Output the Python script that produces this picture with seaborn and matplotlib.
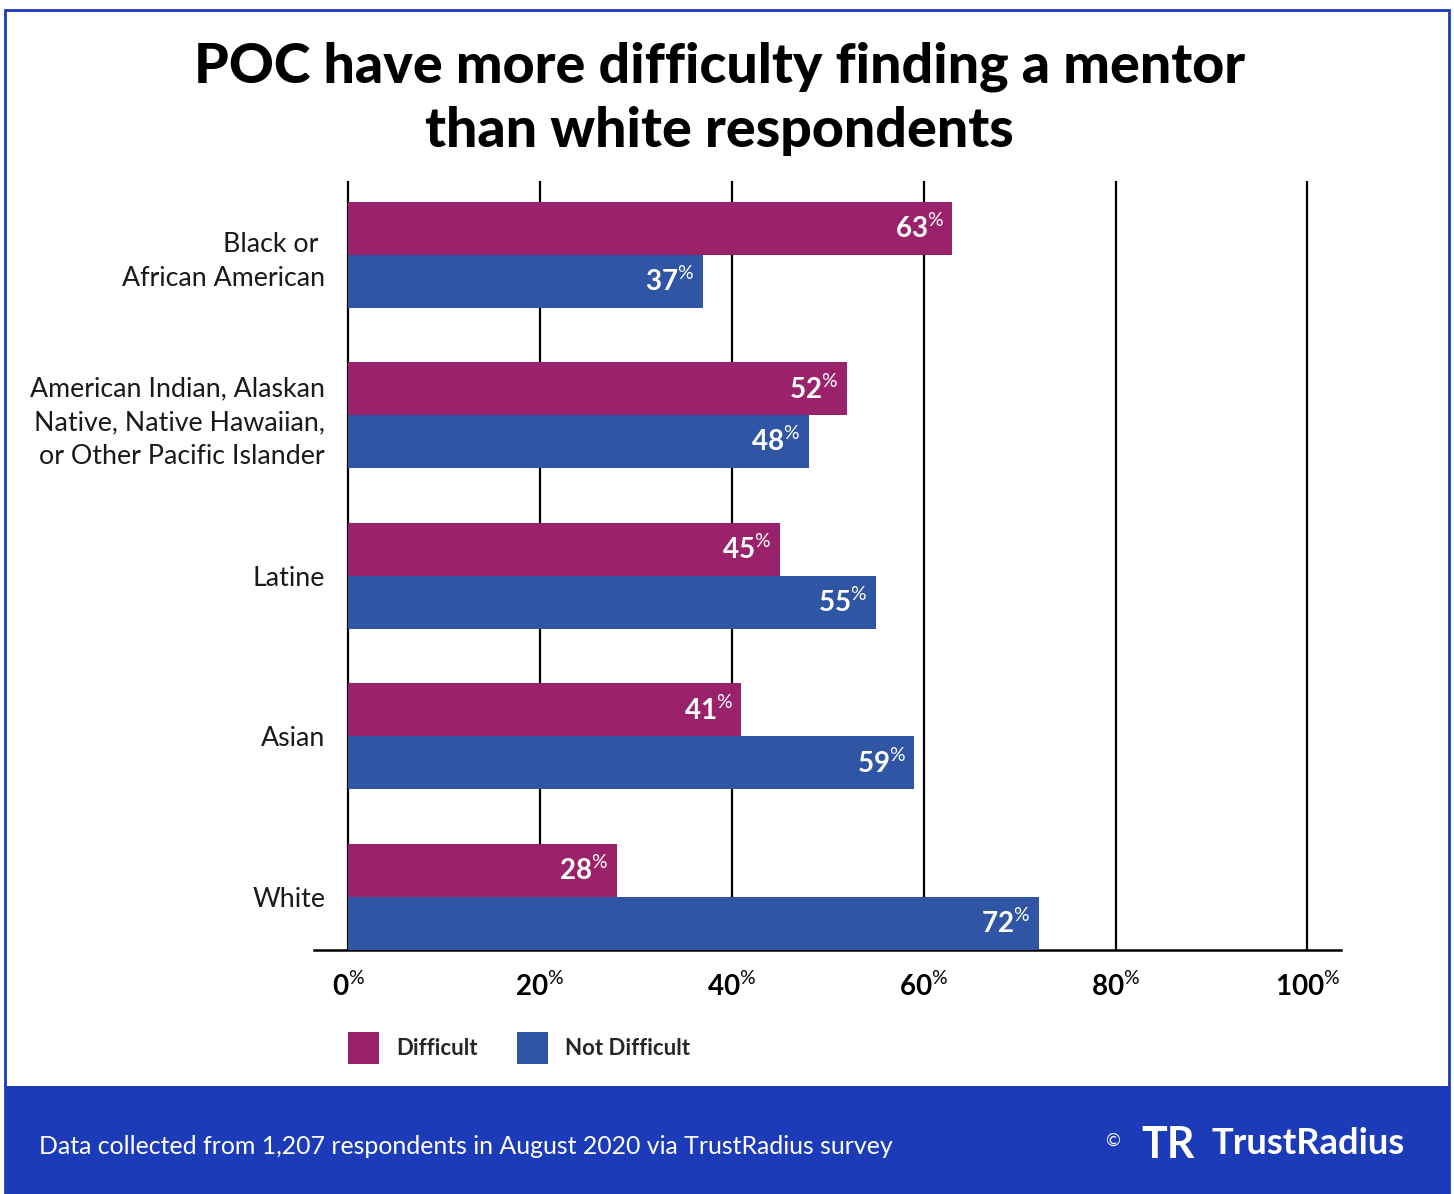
import pandas as pd
import matplotlib.pyplot as plt
import seaborn as sns
from matplotlib.patches import Patch, Rectangle

# chart data
groups = [
    "Black or \nAfrican American",
    "American Indian, Alaskan\nNative, Native Hawaiian,\nor Other Pacific Islander",
    "Latine",
    "Asian",
    "White",
]
difficult = [63, 52, 45, 41, 28]
not_difficult = [37, 48, 55, 59, 72]
series = ["Difficult", "Not Difficult"]
colors = ["#9a226a", "#2f55a4"]
x_ticks = [0, 20, 40, 60, 80, 100]

title = "POC have more difficulty finding a mentor\nthan white respondents"
footnote = "Data collected from 1,207 respondents in August 2020 via TrustRadius survey"

FOOTER_BLUE = "#1c3bb8"


def pct_label(v):
    return rf"$\mathbf{{{v}}}^{{\mathrm{{\%}}}}$"


def generate_plot():
    sns.set_theme(style="white")
    plt.rcParams["font.family"] = ["Lato", "DejaVu Sans"]
    plt.rcParams["mathtext.fontset"] = "custom"
    plt.rcParams["mathtext.rm"] = "Lato"
    plt.rcParams["mathtext.bf"] = "Lato:bold"
    plt.rcParams["mathtext.it"] = "Lato:italic"

    df = pd.DataFrame({
        "group": groups * 2,
        "answer": [series[0]] * len(groups) + [series[1]] * len(groups),
        "pct": difficult + not_difficult,
    })

    W, H = 1454, 1194
    fig = plt.figure(figsize=(W / 100, H / 100), dpi=100)

    # axes placed to match the reference pixel layout
    ax = fig.add_axes([314 / W, 1 - 950 / H, (1341 - 314) / W, (950 - 181) / H])
    sns.barplot(data=df, x="pct", y="group", hue="answer", hue_order=series,
                palette=colors, orient="h", width=0.66, saturation=1,
                legend=False, linewidth=0, zorder=3, ax=ax)

    ax.set_xlim(-3.55, 103.5)
    ax.set_ylim(4.33, -0.46)
    ax.set_xlabel("")
    ax.set_ylabel("")

    ax.set_xticks(x_ticks)
    ax.set_xticklabels([pct_label(t) for t in x_ticks], fontsize=20)
    ax.xaxis.grid(True, color="black", linewidth=1.6)
    ax.yaxis.grid(False)
    ax.set_axisbelow(True)
    ax.tick_params(axis="x", length=0, pad=16, labelcolor="black")
    ax.tick_params(axis="y", length=0, pad=-8, labelsize=19.3, labelcolor="#1a1a1a")
    for lbl in ax.get_yticklabels():
        lbl.set_linespacing(1.45)

    for side in ["top", "right", "left"]:
        ax.spines[side].set_visible(False)
    ax.spines["bottom"].set_color("black")
    ax.spines["bottom"].set_linewidth(1.8)

    # value labels inside bar ends
    for container in ax.containers:
        for bar in container:
            w = bar.get_width()
            yc = bar.get_y() + bar.get_height() / 2
            ax.annotate(pct_label(int(round(w))), (w, yc), xytext=(-6, 0),
                        textcoords="offset points", ha="right", va="center",
                        color="white", fontsize=20, zorder=4)

    # title
    fig.text(0.495, 1 - 99 / H, title, ha="center", va="center",
             fontsize=40, fontweight=900, color="black", linespacing=1.34)

    # legend
    handles = [Patch(facecolor=c, edgecolor="none", label=s) for c, s in zip(colors, series)]
    fig.legend(handles=handles, loc="center left", bbox_to_anchor=(348 / W, 1 - 1048 / H),
               ncol=2, frameon=False, prop={"weight": "bold", "size": 16},
               handlelength=1.4, handleheight=1.9, handletextpad=0.75,
               columnspacing=1.8, borderpad=0, borderaxespad=0)

    # outer border and footer band
    fig.patches.append(Rectangle((5 / W, 0), (1449 - 5) / W, 1 - 10 / H,
                                 transform=fig.transFigure, fill=False,
                                 edgecolor=FOOTER_BLUE, linewidth=2))
    fig.patches.append(Rectangle((5 / W, 0), (1449 - 5) / W, (H - 1086) / H,
                                 transform=fig.transFigure, facecolor=FOOTER_BLUE,
                                 edgecolor="none"))
    fig.text(39 / W, 1 - 1147 / H, footnote, ha="left", va="center",
             fontsize=17.9, color="white")
    fig.text(1113 / W, 1 - 1141 / H, "©", ha="center", va="center",
             fontsize=13, color="white")
    fig.text(1168 / W, 1 - 1145 / H, "TR", ha="center", va="center",
             fontsize=31, fontweight="bold", color="white")
    fig.text(1212 / W, 1 - 1143 / H, "TrustRadius", ha="left", va="center",
             fontsize=26.2, fontweight="bold", color="white")

    fig.savefig("out.png", dpi=100)
    plt.close(fig)


if __name__ == "__main__":
    generate_plot()
